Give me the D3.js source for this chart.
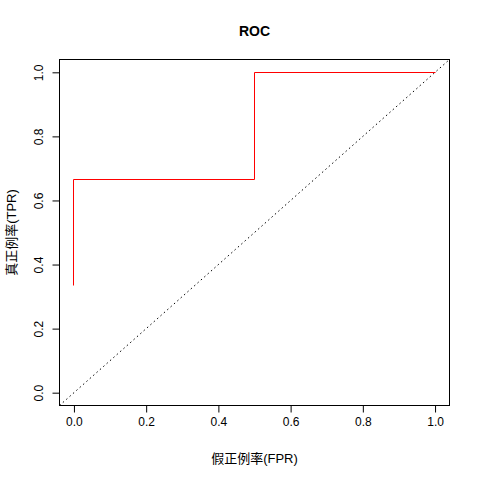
<!DOCTYPE html>
<html>
<head>
<meta charset="utf-8">
<script src="https://cdn.jsdelivr.net/npm/d3@7"></script>
<style>
  body { margin: 0; background: #fff; }
  text { font-family: Arial, "Liberation Sans", "Noto Sans CJK SC", sans-serif; fill: #000; }
</style>
</head>
<body>
<svg id="chart" width="480" height="480"></svg>
<script>
// ROC step curve points (FPR, TPR)
const fpr = [0, 0, 0.5, 0.5, 1];
const tpr = [0.3333, 0.6667, 0.6667, 1, 1];
const xTicks = [0, 0.2, 0.4, 0.6, 0.8, 1.0];
const yTicks = [0, 0.2, 0.4, 0.6, 0.8, 1.0];
const diagonal = [-0.04, 1.04];

const svg = d3.select("#chart");
const L = 59.5, R = 449.5, T = 59.5, B = 405.5;

// R default: range extended 4% each side
const x = d3.scaleLinear().domain([-0.04, 1.04]).range([L, R]);
const y = d3.scaleLinear().domain([-0.04, 1.04]).range([B, T]);
const px = v => Math.round(v - 0.5) + 0.5;

svg.append("rect").attr("width", 480).attr("height", 480).attr("fill", "#fff");

svg.append("defs").append("clipPath").attr("id", "clip")
    .append("rect").attr("x", L).attr("y", T).attr("width", R - L).attr("height", B - T);

// diagonal reference line (abline(0,1), lty=3)
svg.append("line")
    .attr("clip-path", "url(#clip)")
    .attr("x1", x(diagonal[0])).attr("y1", y(diagonal[0]))
    .attr("x2", x(diagonal[1])).attr("y2", y(diagonal[1]))
    .attr("stroke", "#000").attr("stroke-width", 1)
    .attr("stroke-dasharray", "1.5,3");

// ROC curve
const line = d3.line().x(d => px(x(d[0]))).y(d => px(y(d[1])));
svg.append("path")
    .datum(fpr.map((f, i) => [f, tpr[i]]))
    .attr("d", line)
    .attr("fill", "none")
    .attr("stroke", "#ff0000")
    .attr("stroke-width", 1);

// box
svg.append("rect")
    .attr("x", L).attr("y", T).attr("width", R - L).attr("height", B - T)
    .attr("fill", "none").attr("stroke", "#000").attr("stroke-width", 1);

// x axis
const xAxis = svg.append("g").attr("transform", `translate(0,${B})`)
    .call(d3.axisBottom(x).tickValues(xTicks).tickFormat(d3.format(".1f")).tickSize(7).tickPadding(5));
xAxis.select(".domain").attr("d", `M${x(0)},0H${x(1)}`);
xAxis.selectAll("text").attr("font-size", 12).attr("font-family", "Arial, 'Liberation Sans', sans-serif");

// y axis, labels rotated like R's default las=0
const yAxis = svg.append("g").attr("transform", `translate(${L},0)`)
    .call(d3.axisLeft(y).tickValues(yTicks).tickFormat(d3.format(".1f")).tickSize(7).tickPadding(5));
yAxis.select(".domain").attr("d", `M0,${y(0)}V${y(1)}`);
yAxis.selectAll(".tick text")
    .attr("font-size", 12).attr("font-family", "Arial, 'Liberation Sans', sans-serif")
    .attr("x", 0).attr("dy", 0)
    .attr("text-anchor", "middle")
    .attr("transform", "translate(-17,0) rotate(-90)");

// title
svg.append("text")
    .attr("x", (L + R) / 2).attr("y", 36)
    .attr("text-anchor", "middle")
    .attr("font-size", 14).attr("font-weight", "bold")
    .text("ROC");

// x label
svg.append("text")
    .attr("x", (L + R) / 2).attr("y", 463)
    .attr("text-anchor", "middle")
    .attr("font-size", 13)
    .attr("font-family", "Arial, 'Noto Sans CJK SC', sans-serif")
    .text("假正例率(FPR)");

// y label
svg.append("text")
    .attr("transform", `translate(16,${(T + B) / 2}) rotate(-90)`)
    .attr("text-anchor", "middle")
    .attr("font-size", 13)
    .attr("font-family", "Arial, 'Noto Sans CJK SC', sans-serif")
    .text("真正例率(TPR)");
</script>
</body>
</html>
